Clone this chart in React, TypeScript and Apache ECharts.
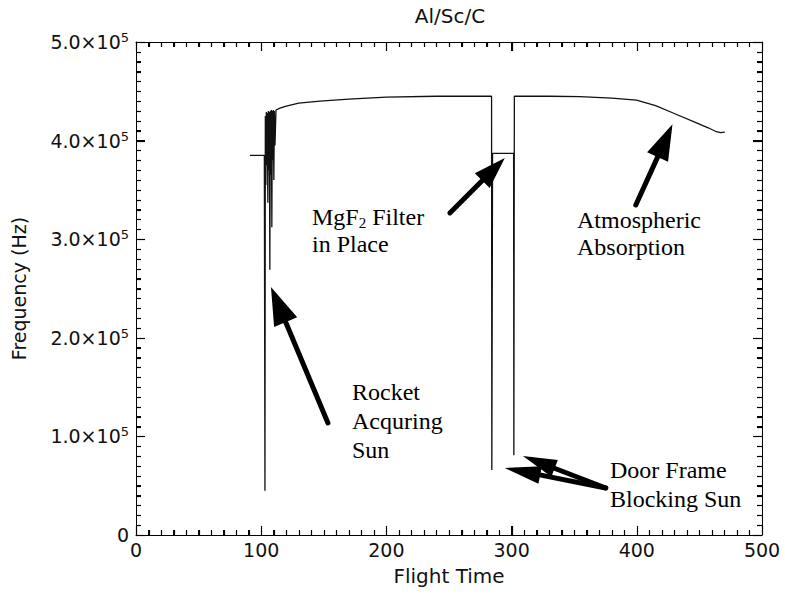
import React, { useEffect, useRef } from "react";
import * as echarts from "echarts";

// ---- data ----
const flightTime = [
  91, 102.5, 103, 103.3, 103.7, 104.1, 104.5, 104.9, 105.3, 105.7, 106.1, 106.5, 106.9, 107.3,
  107.7, 108.1, 108.5, 108.9, 109.3, 109.7, 110.1, 110.5, 111.0, 111.8, 115, 120, 130, 147,
  170, 200, 240, 284, 284.2, 284.8, 301.6, 301.8, 302.2, 330, 354.5, 380, 399.8, 415, 429,
  447.7, 457, 463.6, 467, 470.3,
];
const frequency = [
  3.85e5, 3.85e5, 0.45e5, 4.25e5, 3.55e5, 4.29e5, 3.75e5, 4.28e5, 3.37e5, 4.3e5, 3.7e5, 4.29e5,
  2.69e5, 4.3e5, 3.65e5, 4.31e5, 3.12e5, 4.3e5, 3.8e5, 4.31e5, 3.6e5, 4.3e5, 3.95e5, 4.31e5,
  4.33e5, 4.35e5, 4.38e5, 4.4e5, 4.42e5, 4.44e5, 4.45e5, 4.45e5, 0.66e5, 3.87e5, 3.87e5,
  0.81e5, 4.45e5, 4.45e5, 4.445e5, 4.43e5, 4.41e5, 4.355e5, 4.28e5, 4.18e5, 4.13e5, 4.09e5,
  4.08e5, 4.085e5,
];
const chartTitle = "Al/Sc/C";
const xName = "Flight Time";
const yName = "Frequency (Hz)";

// axis tick values
const xMajorTicks = [0, 100, 200, 300, 400, 500];
const yMajorTicks = [0, 1e5, 2e5, 3e5, 4e5, 5e5];
const MINOR_SPLIT = 10;

// annotation arrows in data coordinates: [tailX, tailY, tipX, tipY]
const annotationArrows = [
  [153.3, 1.136e5, 107.8, 2.515e5],
  [250.7, 3.266e5, 294.6, 3.824e5],
  [399.2, 3.347e5, 428.5, 4.165e5],
  [375.2, 0.477e5, 294.6, 0.68e5],
  [375.2, 0.477e5, 309, 0.8e5],
];
// arrow head [length, width] in px (style)
const arrowHeads = [
  [38, 25],
  [32, 21],
  [36, 23],
  [36, 18],
  [34, 18],
];

const noteRocket = ["Rocket", "Acquring", "Sun"];
const noteFilter = ["MgF{sub|2} Filter", "in Place"];
const noteAtmos = ["Atmospheric", "Absorption"];
const noteDoor = ["Door Frame", "Blocking Sun"];

const SANS = "DejaVu Sans";
const SERIF = "Liberation Serif";

const X_MIN = xMajorTicks[0];
const X_MAX = xMajorTicks[xMajorTicks.length - 1];
const Y_MIN = yMajorTicks[0];
const Y_MAX = yMajorTicks[yMajorTicks.length - 1];

// tick items as [x, y, kind]; kind 0/1 = x major/minor, 2/3 = y major/minor
function tickItems(majors: number[], isX: boolean) {
  const items: number[][] = [];
  const put = (v: number, minor: boolean) => {
    const kind = (isX ? 0 : 2) + (minor ? 1 : 0);
    items.push(isX ? [v, Y_MIN, kind] : [X_MIN, v, kind]);
  };
  majors.forEach((v, i) => {
    put(v, false);
    if (i < majors.length - 1) {
      const step = (majors[i + 1] - v) / MINOR_SPLIT;
      for (let k = 1; k < MINOR_SPLIT; k++) put(v + k * step, true);
    }
  });
  return items;
}

function makeAxis(pos: string, isX: boolean, extra: any) {
  return {
    type: "value",
    position: pos,
    min: isX ? X_MIN : Y_MIN,
    max: isX ? X_MAX : Y_MAX,
    interval: isX ? 100 : 1e5,
    axisLine: { show: true, onZero: false, lineStyle: { color: "#000" } },
    axisTick: { show: true, inside: true, length: 9, lineStyle: { color: "#000", width: 1 } },
    minorTick: { show: true, splitNumber: MINOR_SPLIT, length: 5, lineStyle: { color: "#000", width: 1 } },
    splitLine: { show: false },
    ...extra,
  };
}

function note(lines: string[], x: number, y: number, lh: number) {
  return {
    type: "text",
    x,
    y,
    z: 100,
    style: {
      text: lines.map((l) => (l.includes("{") ? l : `{n|${l}}`)).join("\n"),
      fill: "#000",
      align: "left",
      verticalAlign: "top",
      fontFamily: SERIF,
      fontSize: 24,
      lineHeight: lh,
      rich: {
        n: { fontFamily: SERIF, fontSize: 24, lineHeight: lh, fill: "#000" },
        sub: { fontFamily: SERIF, fontSize: 15, lineHeight: 15, verticalAlign: "bottom", fill: "#000" },
      },
    },
  };
}

const crisp = (v: number) => Math.round(v) + 0.5;

export default function App() {
  const ref = useRef<HTMLDivElement>(null);

  useEffect(() => {
    if (!ref.current) return;
    const chart = echarts.init(ref.current, null, { renderer: "svg" });
    const data = flightTime.map((t, i) => [t, frequency[i]]);
    const ticks = [...tickItems(xMajorTicks, true), ...tickItems(yMajorTicks, false)];

    chart.setOption({
      animation: false,
      title: {
        text: chartTitle,
        left: 445,
        textAlign: "center",
        top: 1,
        textStyle: { fontFamily: SANS, fontSize: 20, fontWeight: "normal", color: "#111" },
      },
      grid: { left: 136, right: 23, top: 42, bottom: 62 },
      xAxis: [
        makeAxis("bottom", true, {
          name: xName,
          nameLocation: "middle",
          nameGap: 31,
          nameTextStyle: { fontFamily: SANS, fontSize: 20, color: "#111" },
          axisLabel: { margin: 5, fontFamily: SANS, fontSize: 19, color: "#111" },
        }),
        makeAxis("top", true, { axisLabel: { show: false } }),
      ],
      yAxis: [
        makeAxis("left", false, {
          name: yName,
          nameLocation: "middle",
          nameGap: 108,
          nameTextStyle: { fontFamily: SANS, fontSize: 19, color: "#111" },
          axisLabel: {
            margin: 7,
            formatter: (v: number) =>
              v === 0 ? "{m|0}" : `{m|${(v / 1e5).toFixed(1)}×10}{sup|5}`,
            rich: {
              m: { fontFamily: SANS, fontSize: 19, color: "#111", lineHeight: 22 },
              sup: {
                fontFamily: SANS,
                fontSize: 13,
                color: "#111",
                lineHeight: 13,
                verticalAlign: "top",
                padding: [0, 0, 15, 0],
              },
            },
          },
        }),
        makeAxis("right", false, { axisLabel: { show: false } }),
      ],
      graphic: [
        note(noteRocket, 352, 377, 29),
        note(noteFilter, 312, 203, 27),
        note(noteAtmos, 577, 206, 27),
        note(noteDoor, 610, 455, 29),
      ],
      series: [
        {
          type: "line",
          data,
          showSymbol: false,
          symbol: "none",
          lineStyle: { color: "#111", width: 1.3 },
        },
        {
          // inward ticks on all four sides of the box, placed via the axes' scales
          type: "custom",
          data: ticks,
          encode: { x: 0, y: 1 },
          clip: false,
          z: 10,
          renderItem: (params: any, api: any) => {
            const kind = api.value(2);
            const len = kind % 2 === 0 ? 9 : 5;
            const st = { stroke: "#000", lineWidth: 1.2, fill: null };
            if (kind < 2) {
              const v = api.value(0);
              const b = api.coord([v, Y_MIN]);
              const t = api.coord([v, Y_MAX]);
              const x = crisp(b[0]);
              return {
                type: "group",
                children: [
                  { type: "line", shape: { x1: x, y1: b[1], x2: x, y2: b[1] - len }, style: st },
                  { type: "line", shape: { x1: x, y1: t[1], x2: x, y2: t[1] + len }, style: st },
                ],
              };
            }
            const v = api.value(1);
            const l = api.coord([X_MIN, v]);
            const r = api.coord([X_MAX, v]);
            const y = crisp(l[1]);
            return {
              type: "group",
              children: [
                { type: "line", shape: { x1: l[0], y1: y, x2: l[0] + len, y2: y }, style: st },
                { type: "line", shape: { x1: r[0], y1: y, x2: r[0] - len, y2: y }, style: st },
              ],
            };
          },
        },
        {
          type: "custom",
          data: annotationArrows,
          encode: { x: [0, 2], y: [1, 3] },
          clip: false,
          silent: true,
          z: 5,
          renderItem: (params: any, api: any) => {
            const t = api.coord([api.value(0), api.value(1)]);
            const h = api.coord([api.value(2), api.value(3)]);
            const [headLen, headW] = arrowHeads[params.dataIndex];
            const dx = h[0] - t[0];
            const dy = h[1] - t[1];
            const len = Math.hypot(dx, dy);
            const ux = dx / len;
            const uy = dy / len;
            const bx = h[0] - ux * headLen;
            const by = h[1] - uy * headLen;
            const nx = -uy;
            const ny = ux;
            return {
              type: "group",
              children: [
                {
                  type: "line",
                  shape: { x1: t[0], y1: t[1], x2: bx + ux * 3, y2: by + uy * 3 },
                  style: { stroke: "#000", lineWidth: 5, lineCap: "round" },
                },
                {
                  type: "polygon",
                  shape: {
                    points: [
                      [h[0], h[1]],
                      [bx + (nx * headW) / 2, by + (ny * headW) / 2],
                      [bx - (nx * headW) / 2, by - (ny * headW) / 2],
                    ],
                  },
                  style: { fill: "#000" },
                },
              ],
            };
          },
        },
      ],
    });

    return () => chart.dispose();
  }, []);

  return (
    <div
      ref={ref}
      style={{ position: "fixed", left: 0, top: 0, width: 785, height: 597, background: "#fff" }}
    />
  );
}
